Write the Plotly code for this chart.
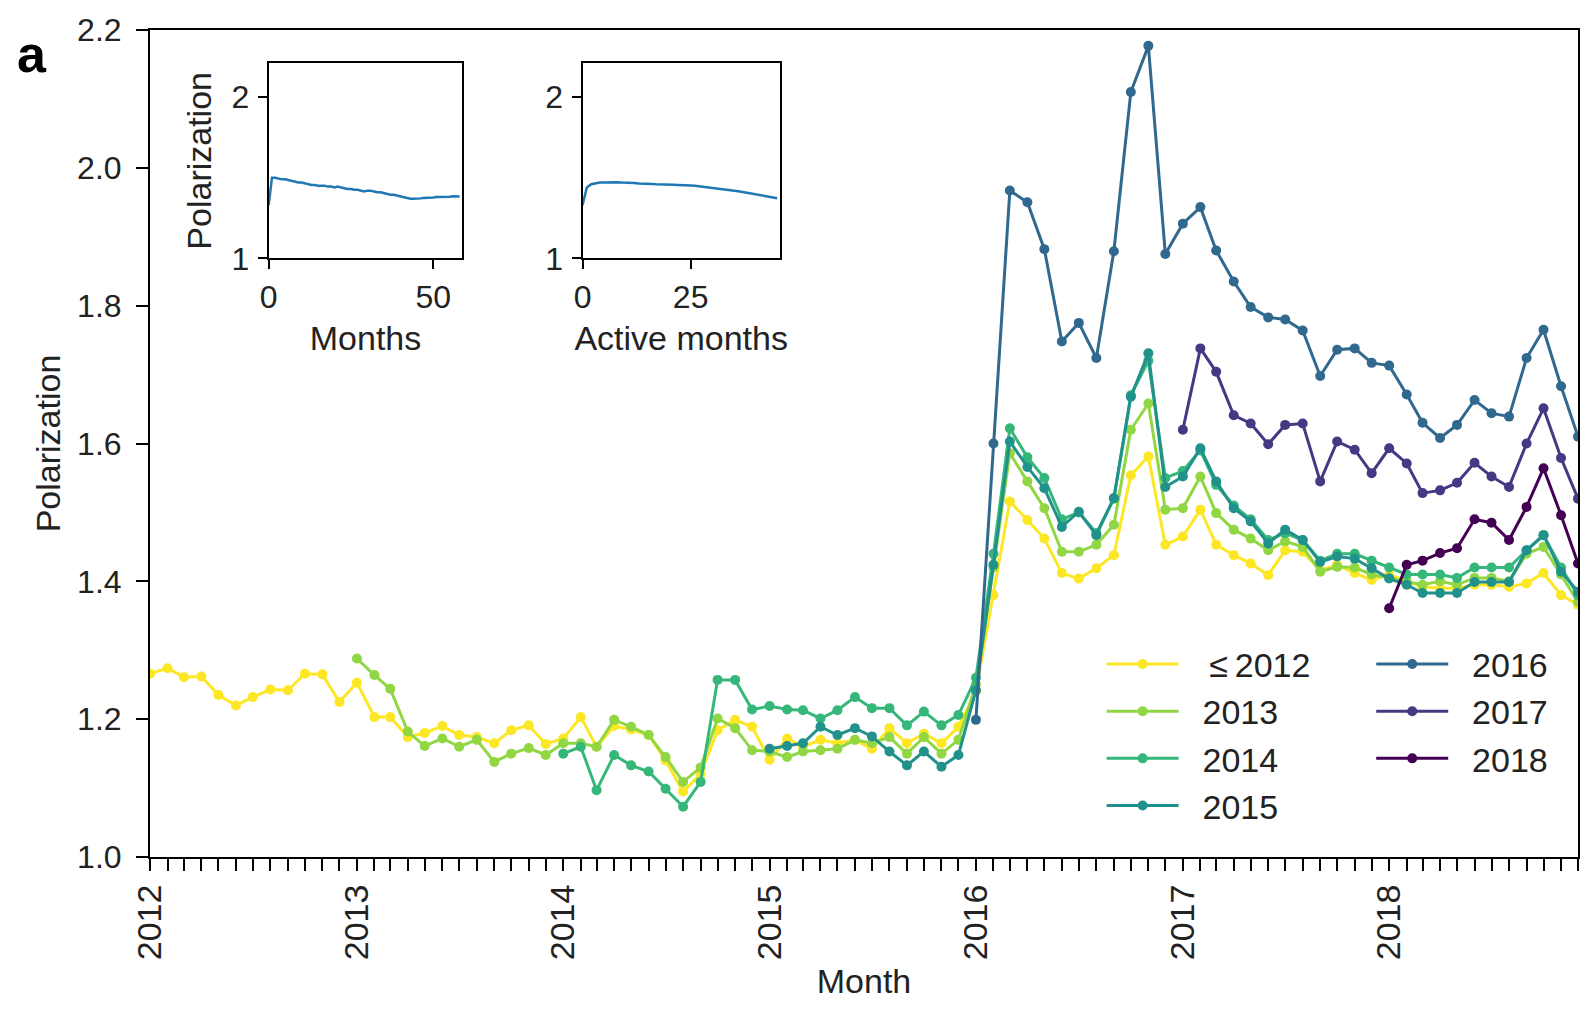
import plotly.graph_objects as go
import pandas as pd

months = pd.date_range("2012-01-01", periods=84, freq="MS").strftime("%Y-%m-%d").tolist()

series_names = ["\u2264 2012", "2013", "2014", "2015", "2016", "2017", "2018"]
series_start = [0, 12, 24, 36, 48, 60, 72]
colors = ["#fde725", "#90d743", "#35b779", "#21918c", "#31688e", "#443983", "#440154"]

y_le2012 = [1.266, 1.274, 1.261, 1.262, 1.235, 1.220, 1.232, 1.243, 1.242, 1.266, 1.265, 1.225,
            1.253, 1.203, 1.203, 1.174, 1.180, 1.190, 1.177, 1.174, 1.165, 1.184, 1.191, 1.164,
            1.172, 1.203, 1.160, 1.190, 1.185, 1.177, 1.140, 1.095, 1.120, 1.184, 1.199, 1.189,
            1.141, 1.172, 1.160, 1.170, 1.165, 1.170, 1.157, 1.187, 1.165, 1.179, 1.165, 1.189,
            1.240, 1.380, 1.516, 1.489, 1.462, 1.412, 1.404, 1.419, 1.438, 1.554, 1.581, 1.453,
            1.465, 1.504, 1.453, 1.438, 1.426, 1.409, 1.445, 1.443, 1.416, 1.424, 1.412, 1.402,
            1.410, 1.400, 1.392, 1.390, 1.390, 1.395, 1.395, 1.392, 1.397, 1.412, 1.380, 1.366]

y_2013 = [1.288, 1.264, 1.244, 1.182, 1.161, 1.172, 1.160, 1.170, 1.138, 1.150, 1.158, 1.148,
          1.165, 1.165, 1.160, 1.199, 1.189, 1.177, 1.145, 1.109, 1.130, 1.201, 1.187, 1.155,
          1.153, 1.145, 1.153, 1.155, 1.157, 1.170, 1.165, 1.174, 1.150, 1.174, 1.150, 1.170,
          1.250, 1.420, 1.586, 1.545, 1.506, 1.443, 1.443, 1.453, 1.482, 1.620, 1.658, 1.504,
          1.506, 1.552, 1.499, 1.475, 1.462, 1.445, 1.458, 1.450, 1.414, 1.421, 1.420, 1.410,
          1.405, 1.400, 1.395, 1.400, 1.395, 1.405, 1.405, 1.400, 1.440, 1.450, 1.410, 1.370]

y_2014 = [1.150, 1.160, 1.097, 1.148, 1.133, 1.124, 1.099, 1.073, 1.109, 1.257, 1.257, 1.214,
          1.219, 1.214, 1.213, 1.201, 1.213, 1.232, 1.216, 1.216, 1.191, 1.211, 1.191, 1.206,
          1.260, 1.440, 1.622, 1.580, 1.550, 1.490, 1.500, 1.470, 1.520, 1.670, 1.720, 1.550,
          1.560, 1.590, 1.540, 1.510, 1.490, 1.460, 1.470, 1.460, 1.430, 1.440, 1.440, 1.430,
          1.420, 1.410, 1.410, 1.410, 1.405, 1.420, 1.420, 1.420, 1.445, 1.467, 1.420, 1.380]

y_2015 = [1.157, 1.161, 1.165, 1.189, 1.177, 1.187, 1.175, 1.153, 1.133, 1.153, 1.131, 1.148,
          1.242, 1.424, 1.603, 1.566, 1.535, 1.479, 1.501, 1.467, 1.521, 1.668, 1.731, 1.537,
          1.552, 1.593, 1.545, 1.506, 1.487, 1.455, 1.475, 1.460, 1.428, 1.436, 1.433, 1.419,
          1.404, 1.395, 1.383, 1.383, 1.383, 1.399, 1.399, 1.399, 1.445, 1.467, 1.414, 1.385]

y_2016 = [1.199, 1.600, 1.967, 1.950, 1.882, 1.748, 1.775, 1.724, 1.879, 2.110, 2.177, 1.875,
          1.919, 1.943, 1.880, 1.835, 1.798, 1.783, 1.780, 1.764, 1.698, 1.736, 1.738, 1.717,
          1.713, 1.671, 1.630, 1.608, 1.627, 1.663, 1.644, 1.639, 1.724, 1.765, 1.683, 1.610]

y_2017 = [1.620, 1.738, 1.704, 1.641, 1.629, 1.599, 1.627, 1.629, 1.545, 1.603, 1.591, 1.557,
          1.593, 1.571, 1.528, 1.532, 1.543, 1.572, 1.552, 1.537, 1.600, 1.651, 1.579, 1.520]

y_2018 = [1.361, 1.424, 1.430, 1.441, 1.448, 1.490, 1.485, 1.460, 1.508, 1.564, 1.496, 1.426]

series_values = [y_le2012, y_2013, y_2014, y_2015, y_2016, y_2017, y_2018]

# insets
inset1_x = list(range(59))
inset1_y = [1.33, 1.50, 1.50, 1.495, 1.49, 1.49, 1.485, 1.48, 1.475, 1.47, 1.47, 1.465, 1.46, 1.455,
            1.455, 1.45, 1.45, 1.45, 1.445, 1.445, 1.44, 1.445, 1.44, 1.435, 1.43, 1.43, 1.425, 1.425,
            1.42, 1.415, 1.42, 1.42, 1.415, 1.41, 1.41, 1.405, 1.40, 1.395, 1.395, 1.39, 1.385, 1.38,
            1.375, 1.37, 1.37, 1.37, 1.372, 1.375, 1.375, 1.378, 1.378, 1.38, 1.38, 1.382, 1.38, 1.382,
            1.385, 1.383, 1.383]
inset2_x = list(range(46))
inset2_y = [1.33, 1.44, 1.46, 1.465, 1.47, 1.47, 1.472, 1.47, 1.472, 1.47, 1.47, 1.468, 1.468, 1.465,
            1.465, 1.463, 1.462, 1.46, 1.46, 1.458, 1.457, 1.456, 1.455, 1.455, 1.453, 1.452, 1.45,
            1.447, 1.444, 1.44, 1.437, 1.434, 1.43, 1.427, 1.424, 1.42, 1.416, 1.412, 1.407, 1.403,
            1.398, 1.393, 1.388, 1.383, 1.378, 1.373]

FONT = "Liberation Sans, Arial, sans-serif"
TXT = "#222222"
NB = "\u00a0\u00a0"

fig = go.Figure()
for i, (name, start, col, vals) in enumerate(zip(series_names, series_start, colors, series_values)):
    label = NB + ("\u2009" + name.replace(" ", "\u2009") if i == 0 else name)
    fig.add_trace(go.Scatter(
        x=months[start:start + len(vals)], y=vals, name=label,
        mode="lines+markers", line=dict(color=col, width=3),
        marker=dict(color=col, size=10),
        legend="legend" if i < 4 else "legend2",
        xaxis="x", yaxis="y"))

fig.add_trace(go.Scatter(x=inset1_x, y=inset1_y, mode="lines", line=dict(color="#1f77b4", width=2.5),
                         showlegend=False, xaxis="x2", yaxis="y2"))
fig.add_trace(go.Scatter(x=inset2_x, y=inset2_y, mode="lines", line=dict(color="#1f77b4", width=2.5),
                         showlegend=False, xaxis="x3", yaxis="y3"))

axis_common = dict(showline=True, linecolor="black", linewidth=2, mirror=True, ticks="outside",
                   ticklen=12, tickwidth=2, tickcolor="black", showgrid=False, zeroline=False,
                   tickfont=dict(family=FONT, size=32, color=TXT))
inset_common = dict(axis_common, ticklen=9)
TFONT = dict(family=FONT, size=34, color=TXT)

fig.update_layout(
    width=1588, height=1009,
    margin=dict(l=150, r=8, t=30, b=152),
    paper_bgcolor="white", plot_bgcolor="white",
    font=dict(family=FONT, size=32, color=TXT),
    xaxis=dict(**dict(axis_common, tickfont=dict(family=FONT, size=34, color=TXT)),
               type="date", range=["2012-01-01", "2018-12-01"],
               dtick="M12", tick0="2012-01-01", tickformat="%Y", tickangle=-90,
               ticklabelstandoff=0,
               minor=dict(dtick="M1", ticks="outside", ticklen=12, tickwidth=2, tickcolor="black"),
               title=dict(text="Month", font=TFONT, standoff=10)),
    yaxis=dict(**axis_common, range=[1.0, 2.2], dtick=0.2, tickformat=".1f",
               ticklabelstandoff=8,
               title=dict(text="Polarization", font=TFONT, standoff=6)),
    xaxis2=dict(**inset_common, domain=[0.0831, 0.2187], anchor="y2", range=[0, 58.8],
                tickvals=[0, 50], ticklabelstandoff=0,
                title=dict(text="Months", font=TFONT, standoff=12)),
    yaxis2=dict(**inset_common, domain=[0.7239, 0.9597], anchor="x2", range=[1, 2.21],
                tickvals=[1, 2], ticklabelstandoff=2,
                title=dict(text="Polarization", font=TFONT, standoff=10)),
    xaxis3=dict(**inset_common, domain=[0.3029, 0.4410], anchor="y3", range=[0, 45.6],
                tickvals=[0, 25], ticklabelstandoff=0,
                title=dict(text="Active months", font=TFONT, standoff=12)),
    yaxis3=dict(**inset_common, domain=[0.7239, 0.9597], anchor="x3", range=[1, 2.21],
                tickvals=[1, 2], ticklabelstandoff=2),
    legend=dict(x=0.6664, y=0.268, xanchor="left", yanchor="top", bgcolor="rgba(0,0,0,0)",
                font=dict(family=FONT, size=34, color=TXT), itemwidth=72, tracegroupgap=0),
    legend2=dict(x=0.8552, y=0.268, xanchor="left", yanchor="top", bgcolor="rgba(0,0,0,0)",
                 font=dict(family=FONT, size=34, color=TXT), itemwidth=72, tracegroupgap=0),
)
fig.add_annotation(text="<b>a</b>", xref="paper", yref="paper",
                   x=-(150 - 15) / 1430, y=(857 - 54) / 827, xanchor="left", yanchor="middle",
                   showarrow=False, font=dict(family=FONT, size=52, color="black"))

fig.write_html("out.html", post_script="document.body.style.margin='0';",
               config={"displayModeBar": False})
